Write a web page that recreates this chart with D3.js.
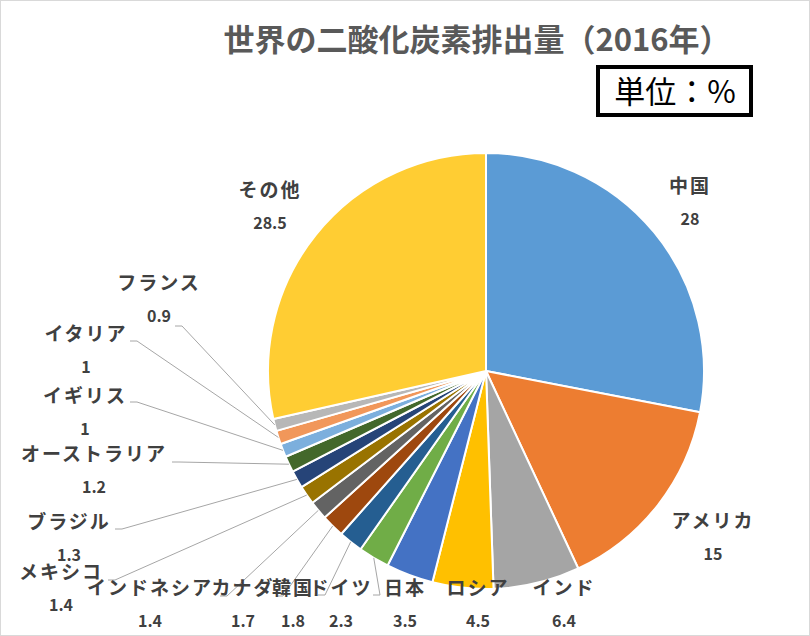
<!DOCTYPE html>
<html>
<head>
<meta charset="utf-8">
<script src="https://cdn.jsdelivr.net/npm/d3@7"></script>
<style>
  html, body { margin: 0; padding: 0; background: #fff; }
  svg { display: block; }
</style>
</head>
<body>
<svg id="chart" width="810" height="636"></svg>
<script>
// Data (単位: %)
const countries = ["中国", "アメリカ", "インド", "ロシア", "日本", "ドイツ", "韓国", "カナダ",
    "インドネシア", "メキシコ", "ブラジル", "オーストラリア", "イギリス", "イタリア", "フランス", "その他"];
const shares = [28, 15, 6.4, 4.5, 3.5, 2.3, 1.8, 1.7, 1.4, 1.4, 1.3, 1.2, 1, 1, 0.9, 28.5];
const valueLabels = ["28", "15", "6.4", "4.5", "3.5", "2.3", "1.8", "1.7", "1.4", "1.4", "1.3", "1.2", "1", "1", "0.9", "28.5"];

// Excel-ish palette
const colors = ["#5B9BD5", "#ED7D31", "#A5A5A5", "#FFC000", "#4472C4", "#70AD47", "#255E91", "#9E480E",
    "#636363", "#997300", "#264478", "#43682B", "#7CAFDD", "#F1975A", "#B7B7B7", "#FFCD33"];

// Label layout: [name x, name y, leader end x, leader end y] (null = no leader)
const labelLayout = [
    [690, 186, null, null],
    [713, 521, null, null],
    [564, 588, null, null],
    [478, 588, null, null],
    [405, 588, null, null],
    [341, 588, 373, 595],
    [293, 588, 318, 595],
    [243, 588, 276, 596],
    [150, 588, 220, 596],
    [61, 572, 108, 580],
    [69, 522, 115, 529],
    [94, 454, 172, 462],
    [85, 396, 130, 402],
    [86, 334, 130, 341],
    [159, 283, 175, 326],
    [270, 190, null, null]
];

const svg = d3.select("#chart");
const W = 810, H = 636;
const cx = 486, cy = 371, R = 218;

// chart border
svg.append("rect")
    .attr("x", 0.5).attr("y", 0.5)
    .attr("width", W - 1).attr("height", H - 1)
    .attr("fill", "#fff")
    .attr("stroke", "#D9D9D9");

// Title
svg.append("text")
    .attr("x", 477).attr("y", 51)
    .attr("text-anchor", "middle")
    .attr("font-family", "'Noto Sans CJK JP', sans-serif")
    .attr("font-weight", "bold")
    .attr("font-size", 31)
    .attr("fill", "#595959")
    .text("世界の二酸化炭素排出量（2016年）");

// Unit box
svg.append("rect")
    .attr("x", 598).attr("y", 67)
    .attr("width", 153).attr("height", 48)
    .attr("fill", "#fff")
    .attr("stroke", "#000")
    .attr("stroke-width", 4);
svg.append("text")
    .attr("x", 675).attr("y", 103)
    .attr("text-anchor", "middle")
    .attr("font-family", "'Noto Sans CJK JP', sans-serif")
    .attr("font-size", 31)
    .attr("fill", "#000")
    .text("単位：%");

// Pie
const pie = d3.pie().sort(null).value(d => d.v);
const items = countries.map((c, i) => ({ name: c, v: shares[i], label: valueLabels[i], i }));
const arcs = pie(items);

const arc = d3.arc().innerRadius(0).outerRadius(R);
const outerPt = d3.arc().innerRadius(R).outerRadius(R);

const g = svg.append("g").attr("transform", `translate(${cx},${cy})`);

g.selectAll("path.slice")
    .data(arcs)
    .join("path")
    .attr("class", "slice")
    .attr("d", arc)
    .attr("fill", d => colors[d.data.i])
    .attr("stroke", "#fff")
    .attr("stroke-width", 2)
    .attr("stroke-linejoin", "round");

// Leader lines
const leaders = arcs.filter(d => labelLayout[d.data.i][2] !== null);
svg.append("g")
    .selectAll("polyline")
    .data(leaders)
    .join("polyline")
    .attr("fill", "none")
    .attr("stroke", "#A6A6A6")
    .attr("stroke-width", 1)
    .attr("points", d => {
        const L = labelLayout[d.data.i];
        const p = outerPt.centroid(d);
        const sx = cx + p[0], sy = cy + p[1];
        const ex = L[2], ey = L[3];
        // short horizontal stub next to label
        const stub = sx > ex ? ex + 7 : ex - 7;
        return `${ex},${ey} ${stub},${ey} ${sx},${sy}`;
    });

// Labels
const lab = svg.append("g")
    .attr("font-family", "'Noto Sans CJK JP', sans-serif")
    .attr("fill", "#404040")
    .attr("text-anchor", "middle");

lab.selectAll("text.name")
    .data(arcs)
    .join("text")
    .attr("class", "name")
    .attr("x", d => labelLayout[d.data.i][0])
    .attr("y", d => labelLayout[d.data.i][1] + 7)
    .attr("font-size", 19)
    .attr("font-weight", "bold")
    .attr("letter-spacing", 2)
    .text(d => d.data.name);

lab.selectAll("text.val")
    .data(arcs)
    .join("text")
    .attr("class", "val")
    .attr("x", d => labelLayout[d.data.i][0])
    .attr("y", d => labelLayout[d.data.i][1] + 39)
    .attr("font-size", 16)
    .attr("font-weight", "bold")
    .text(d => d.data.label);
</script>
</body>
</html>
